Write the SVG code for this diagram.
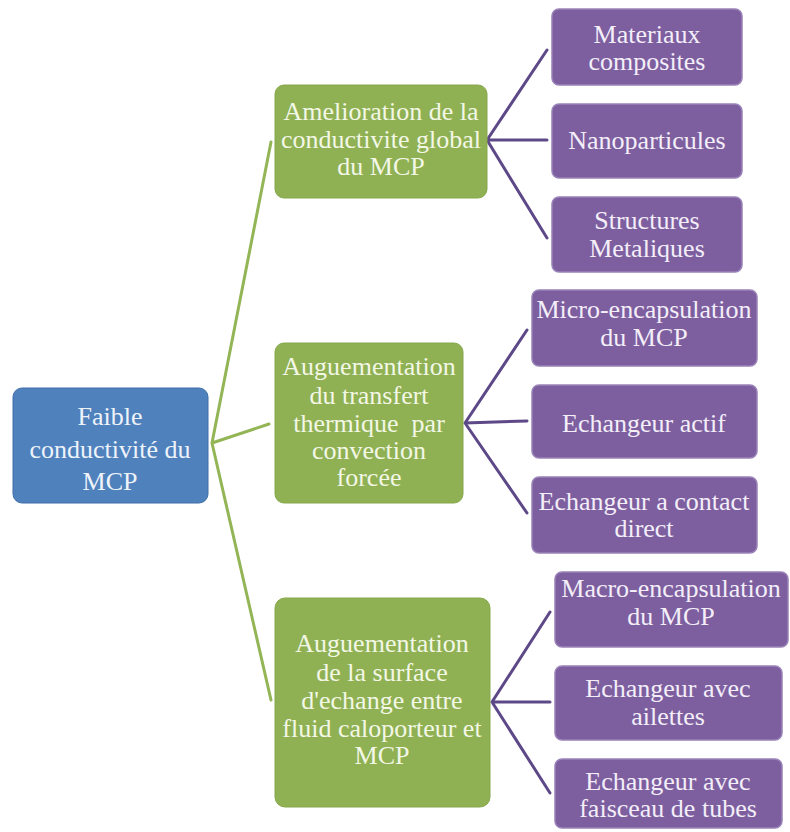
<svg xmlns="http://www.w3.org/2000/svg" width="790" height="832" viewBox="0 0 790 832" font-family="Liberation Serif, DejaVu Serif, serif">
<style>
text{font-size:26px;text-anchor:middle}
.root rect{fill:#4f81bd;stroke:#3f6fa8;stroke-width:1}
.root text{fill:#eef3fa}
.g rect{fill:#8fb153;stroke:#86a84c;stroke-width:1}
.g text{fill:#f3f7e6}
.p rect{fill:#7d5fa0;stroke:#9a83b8;stroke-width:1.5}
.p text{fill:#f3eef8}
.cg{stroke:#93b556;stroke-width:3;fill:none;stroke-linecap:round}
.cp{stroke:#5d4888;stroke-width:3;fill:none;stroke-linecap:round}
</style>
<rect width="790" height="832" fill="#ffffff"/>
<g id="connectors">
<path class="cg" d="M212 443L271 142M212 443L269 424M212 443L271 700"/>
<path class="cp" d="M487 140L547 50M487 140L547 140M487 140L547 238"/>
<path class="cp" d="M465 423L527 330M465 423L527 421M465 423L527 513"/>
<path class="cp" d="M492 702L550 612M492 702L550 702M492 702L550 793"/>
</g>
<g id="root" class="root">
<rect x="13" y="388" width="195" height="115" rx="9"/>
<text x="110" y="425">Faible</text>
<text x="110" y="458">conductivité du</text>
<text x="110" y="490">MCP</text>
</g>
<g id="g1" class="g">
<rect x="275" y="85" width="212" height="113" rx="9"/>
<text x="381" y="120">Amelioration de la</text>
<text x="381" y="148">conductivite global</text>
<text x="381" y="175">du MCP</text>
</g>
<g id="g2" class="g">
<rect x="275" y="343" width="188" height="160" rx="9"/>
<text x="369" y="375">Auguementation</text>
<text x="369" y="404">du transfert</text>
<text x="369" y="432" xml:space="preserve">thermique  par</text>
<text x="369" y="459">convection</text>
<text x="369" y="486">forcée</text>
</g>
<g id="g3" class="g">
<rect x="275" y="598" width="215" height="209" rx="10"/>
<text x="382" y="652">Auguementation</text>
<text x="382" y="681">de la surface</text>
<text x="382" y="709">d'echange entre</text>
<text x="382" y="737">fluid caloporteur et</text>
<text x="382" y="764">MCP</text>
</g>
<g id="p1" class="p">
<rect x="552" y="9" width="190" height="76" rx="7"/>
<text x="647" y="43">Materiaux</text>
<text x="647" y="70">composites</text>
</g>
<g id="p2" class="p">
<rect x="552" y="104" width="190" height="74" rx="7"/>
<text x="647" y="149">Nanoparticules</text>
</g>
<g id="p3" class="p">
<rect x="552" y="197" width="190" height="75" rx="7"/>
<text x="647" y="229">Structures</text>
<text x="647" y="257">Metaliques</text>
</g>
<g id="p4" class="p">
<rect x="532" y="290" width="225" height="76" rx="7"/>
<text x="644" y="318">Micro-encapsulation</text>
<text x="644" y="346">du MCP</text>
</g>
<g id="p5" class="p">
<rect x="532" y="385" width="225" height="73" rx="7"/>
<text x="644" y="432">Echangeur actif</text>
</g>
<g id="p6" class="p">
<rect x="532" y="477" width="225" height="76" rx="7"/>
<text x="644" y="510">Echangeur a contact</text>
<text x="644" y="537">direct</text>
</g>
<g id="p7" class="p">
<rect x="555" y="572" width="233" height="75" rx="7"/>
<text x="671" y="597">Macro-encapsulation</text>
<text x="671" y="625">du MCP</text>
</g>
<g id="p8" class="p">
<rect x="555" y="666" width="227" height="74" rx="7"/>
<text x="668" y="697">Echangeur avec</text>
<text x="668" y="725">ailettes</text>
</g>
<g id="p9" class="p">
<rect x="555" y="759" width="227" height="69" rx="7"/>
<text x="668" y="790">Echangeur avec</text>
<text x="668" y="817">faisceau de tubes</text>
</g>
</svg>
